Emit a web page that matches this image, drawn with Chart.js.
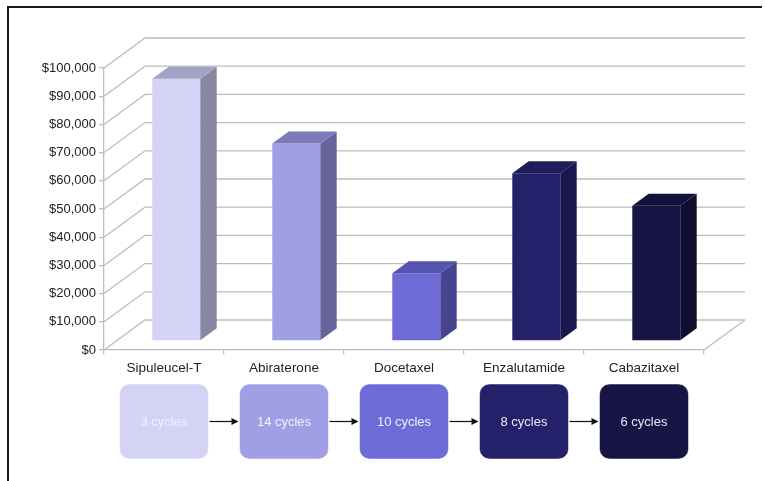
<!DOCTYPE html>
<html>
<head>
<meta charset="utf-8">
<script src="https://cdn.jsdelivr.net/npm/chart.js@4.4.0/dist/chart.umd.min.js"></script>
<style>
  body { margin: 0; background: #fff; }
  #wrap { position: relative; width: 765px; height: 481px; overflow: hidden; }
  #frame { position: absolute; left: 7px; top: 6px; width: 753px; height: 480px;
           border-top: 2px solid #1a1a1a; border-left: 2px solid #1a1a1a; }
  canvas { position: absolute; left: 0; top: 0; }
</style>
</head>
<body>
<div id="wrap">
  <div id="frame"></div>
  <canvas id="costChart" width="765" height="481"></canvas>
</div>
<script>
// data
const drugs = ["Sipuleucel-T", "Abiraterone", "Docetaxel", "Enzalutamide", "Cabazitaxel"];
const costs = [93000, 70000, 24000, 59500, 48000];
const cycles = [3, 14, 10, 8, 6];
const yMax = 100000;
const yStep = 10000;

// colours per bar: front, side, top, box text
const frontColors = ["#D4D2F5", "#A09EE5", "#6D6BD6", "#24216A", "#161545"];
const sideColors = ["#8886A1", "#66649A", "#46448F", "#19174E", "#0F0E2F"];
const topColors = ["#A4A2C4", "#7C7AB9", "#5553AD", "#1E1C59", "#13123D"];
const boxTextColors = ["#F2F1FC", "#F4F4FC", "#F0F0FA", "#E8E8F4", "#E8E8F4"];

Chart.defaults.font.family = "'Liberation Sans', Arial, sans-serif";
Chart.defaults.color = "#222";

// depth of the 3D box (back wall offset) and bar depth range
const DX = 41, DY = -30;
const barNear = 0.3, barFar = 0.7;
const gridColor = "#BDBDBD";

const threeD = {
  id: "threeD",
  beforeDatasetsDraw(chart) {
    const ctx = chart.ctx;
    const y = chart.scales.y;
    const area = chart.chartArea;
    ctx.save();
    ctx.strokeStyle = gridColor;
    ctx.lineWidth = 1.3;
    // back wall gridlines + diagonal side wall
    for (let v = 0; v <= yMax; v += yStep) {
      const py = y.getPixelForValue(v);
      ctx.beginPath();
      ctx.moveTo(area.left, py);
      ctx.lineTo(area.left + DX, py + DY);
      ctx.lineTo(area.right + DX, py + DY);
      ctx.stroke();
    }
    // floor right edge
    const p0 = y.getPixelForValue(0);
    ctx.beginPath();
    ctx.moveTo(area.right, p0);
    ctx.lineTo(area.right + DX, p0 + DY);
    ctx.stroke();
    ctx.restore();

    // front faces sit part way into the depth
    ctx.save();
    ctx.translate(DX * barNear, DY * barNear);
  },
  afterDatasetsDraw(chart) {
    const ctx = chart.ctx;
    ctx.restore();
    const meta = chart.getDatasetMeta(0);
    const ox = DX * barNear, oy = DY * barNear;
    const dx = DX * (barFar - barNear), dy = DY * (barFar - barNear);
    meta.data.forEach((bar, i) => {
      const p = bar.getProps(["x", "y", "base", "width"], true);
      const l = p.x - p.width / 2 + ox, r = p.x + p.width / 2 + ox;
      const t = p.y + oy, b = p.base + oy;
      // side face
      ctx.fillStyle = sideColors[i];
      ctx.beginPath();
      ctx.moveTo(r, t);
      ctx.lineTo(r + dx, t + dy);
      ctx.lineTo(r + dx, b + dy);
      ctx.lineTo(r, b);
      ctx.closePath();
      ctx.fill();
      // top face
      ctx.fillStyle = topColors[i];
      ctx.beginPath();
      ctx.moveTo(l, t);
      ctx.lineTo(l + dx, t + dy);
      ctx.lineTo(r + dx, t + dy);
      ctx.lineTo(r, t);
      ctx.closePath();
      ctx.fill();
    });
  },
  afterDraw(chart) {
    // cycle boxes under the category labels
    const ctx = chart.ctx;
    const x = chart.scales.x;
    const bw = 89, bh = 75, top = 384, rad = 10;
    ctx.save();
    cycles.forEach((c, i) => {
      const cx = x.getPixelForValue(i);
      ctx.fillStyle = frontColors[i];
      ctx.beginPath();
      ctx.roundRect(cx - bw / 2, top, bw, bh, rad);
      ctx.fill();
      ctx.strokeStyle = "rgba(255,255,255,0.5)";
      ctx.lineWidth = 1;
      ctx.stroke();
      ctx.fillStyle = boxTextColors[i];
      ctx.font = "13px 'Liberation Sans', Arial, sans-serif";
      ctx.textAlign = "center";
      ctx.textBaseline = "middle";
      ctx.fillText(c + " cycles", cx, top + bh / 2 + 1);
      if (i < cycles.length - 1) {
        const nx = x.getPixelForValue(i + 1);
        const ay = top + bh / 2;
        const x1 = cx + bw / 2 + 1, x2 = nx - bw / 2 - 1;
        ctx.strokeStyle = "#111";
        ctx.lineWidth = 1.2;
        ctx.beginPath();
        ctx.moveTo(x1, ay);
        ctx.lineTo(x2 - 6, ay);
        ctx.stroke();
        ctx.fillStyle = "#111";
        ctx.beginPath();
        ctx.moveTo(x2, ay);
        ctx.lineTo(x2 - 7, ay - 3.5);
        ctx.lineTo(x2 - 7, ay + 3.5);
        ctx.closePath();
        ctx.fill();
      }
    });
    ctx.restore();
  }
};

new Chart(document.getElementById("costChart"), {
  type: "bar",
  data: {
    labels: drugs,
    datasets: [{
      data: costs,
      backgroundColor: frontColors,
      borderWidth: 0,
      barPercentage: 0.4,
      categoryPercentage: 1.0
    }]
  },
  options: {
    responsive: false,
    animation: false,
    layout: { padding: { left: 8, top: 68, right: 61, bottom: 0 } },
    plugins: { legend: { display: false }, tooltip: { enabled: false } },
    scales: {
      x: {
        afterFit: s => { s.height = 131; },
        grid: { offset: true, drawOnChartArea: false, tickLength: 4, color: gridColor, lineWidth: 1.3 },
        border: { color: gridColor, width: 1.3 },
        ticks: { padding: 6, font: { size: 13.5 }, color: "#222" }
      },
      y: {
        min: 0,
        max: yMax,
        afterFit: s => { s.width = 96; },
        grid: { drawOnChartArea: false, tickLength: 5, color: gridColor, lineWidth: 1.3 },
        border: { color: gridColor, width: 1.3 },
        ticks: {
          stepSize: yStep,
          padding: 3,
          font: { size: 13 },
          color: "#222",
          callback: v => "$" + v.toLocaleString("en-US")
        }
      }
    }
  },
  plugins: [threeD]
});
</script>
</body>
</html>
